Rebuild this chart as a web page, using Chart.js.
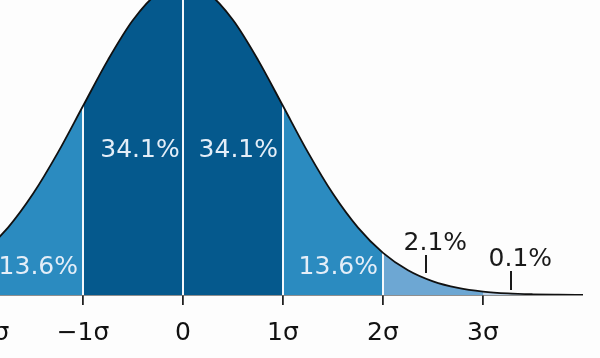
<!DOCTYPE html>
<html>
<head>
<meta charset="utf-8">
<script src="https://cdn.jsdelivr.net/npm/chart.js@4.4.1/dist/chart.umd.min.js"></script>
<style>
  html, body { margin:0; padding:0; background:#fdfdfd; overflow:hidden; width:600px; height:358px; }
  #wrap { position:absolute; left:-217px; top:-33px; width:800px; height:388px; }
</style>
</head>
<body>
<div id="wrap"><canvas id="c" width="800" height="388"></canvas></div>
<script>
// x positions in units of sigma, and the density
const sigmaX = [-4,-3.75,-3.5,-3.25,-3,-2.75,-2.5,-2.25,-2,-1.75,-1.5,-1.25,-1,-0.75,-0.5,-0.25,0,
                0.25,0.5,0.75,1,1.25,1.5,1.75,2,2.25,2.5,2.75,3,3.25,3.5,3.75,4];
const density = [0.0001,0.0004,0.0009,0.0020,0.0044,0.0091,0.0175,0.0317,0.0540,0.0863,0.1295,0.1826,0.2420,0.3011,0.3521,0.3867,0.3989,
                 0.3867,0.3521,0.3011,0.2420,0.1826,0.1295,0.0863,0.0540,0.0317,0.0175,0.0091,0.0044,0.0020,0.0009,0.0004,0.0001];
// band separators (white lines) and their heights on the curve
const dividerX = [-2,-1,0,1,2];
const dividerH = [0.0540,0.2420,0.3989,0.2420,0.0540];
// tick values and labels
const tickValues = [-3,-2,-1,0,1,2,3];
const tickLabels = ['\u22123\u03c3','\u22122\u03c3','\u22121\u03c3','0','1\u03c3','2\u03c3','3\u03c3'];
// percentage labels
const pctLabels = ['34.1%','34.1%','13.6%','13.6%','2.1%','0.1%'];
const pctX      = [-0.43, 0.553, -1.447, 1.553, 2.523, 3.373];
const pctY      = [0.1767,0.1767,0.0269,0.0269,0.0576,0.0371];
const pctColor  = ['#e4eef8','#e4eef8','#e4eef8','#e4eef8','#1a1a1a','#1a1a1a'];
// pointer marks for the small-tail labels
const pointerX   = [2.43, 3.28];
const pointerY0  = [0.0282, 0.0064];
const pointerY1  = [0.0512, 0.0307];

const curvePts = sigmaX.map((x,i)=>({x, y:density[i]}));

function bandColor(x){
  const a = Math.abs(x);
  if (a < 1) return '#05598d';
  if (a < 2) return '#2b8bc0';
  if (a < 3) return '#6da7d3';
  return '#b9d2ea';
}

const datasets = [];
datasets.push({
  data: curvePts, order: 5, fill: 'origin', borderWidth: 0, pointRadius: 0,
  cubicInterpolationMode: 'monotone', backgroundColor: '#05598d',
  segment: {
    backgroundColor: ctx => bandColor((ctx.p0.parsed.x + ctx.p1.parsed.x)/2)
  }
});
dividerX.forEach((x,i)=>{
  datasets.push({data:[{x, y:0},{x, y:dividerH[i]}], order:3, borderColor:'#f4f8fc', borderWidth:2,
                 pointRadius:0, fill:false});
});
datasets.push({
  data: curvePts, order: 1, fill: false, borderColor: '#111', borderWidth: 1.8, pointRadius: 0,
  cubicInterpolationMode: 'monotone'
});
pointerX.forEach((x,i)=>{
  datasets.push({data:[{x, y:pointerY0[i]},{x, y:pointerY1[i]}], order:0, borderColor:'#1a1a1a',
                 borderWidth:2, pointRadius:0, fill:false});
});

const labelPlugin = {
  id: 'pctLabels',
  afterDatasetsDraw(chart){
    const {ctx, scales:{x, y}} = chart;
    ctx.save();
    ctx.font = '25px "DejaVu Sans"';
    ctx.textAlign = 'center';
    ctx.textBaseline = 'alphabetic';
    pctLabels.forEach((t,i)=>{
      ctx.fillStyle = pctColor[i];
      ctx.fillText(t, x.getPixelForValue(pctX[i]), y.getPixelForValue(pctY[i]));
    });
    ctx.restore();
  }
};

new Chart(document.getElementById('c'), {
  type: 'line',
  data: { datasets },
  plugins: [labelPlugin],
  options: {
    responsive: false, animation: false, devicePixelRatio: 1,
    layout: { padding: 0 },
    plugins: { legend: {display:false}, tooltip: {enabled:false} },
    scales: {
      x: {
        type: 'linear', min: -4, max: 4,
        afterBuildTicks: s => { s.ticks = tickValues.map(v=>({value:v})); },
        afterFit: s => { s.height = 60; },
        grid: { drawOnChartArea:false, drawTicks:true, tickLength:10, color:'#222', lineWidth:1.8 },
        border: { display:true, color:'#222', width:1.5 },
        ticks: {
          padding: 13, color:'#111', font:{family:'"DejaVu Sans"', size:25},
          maxRotation:0, autoSkip:false,
          callback: v => { const k = tickValues.indexOf(v); return k >= 0 ? tickLabels[k] : ''; }
        }
      },
      y: { type:'linear', min:0, max:0.42, display:false }
    }
  }
});
</script>
</body>
</html>
